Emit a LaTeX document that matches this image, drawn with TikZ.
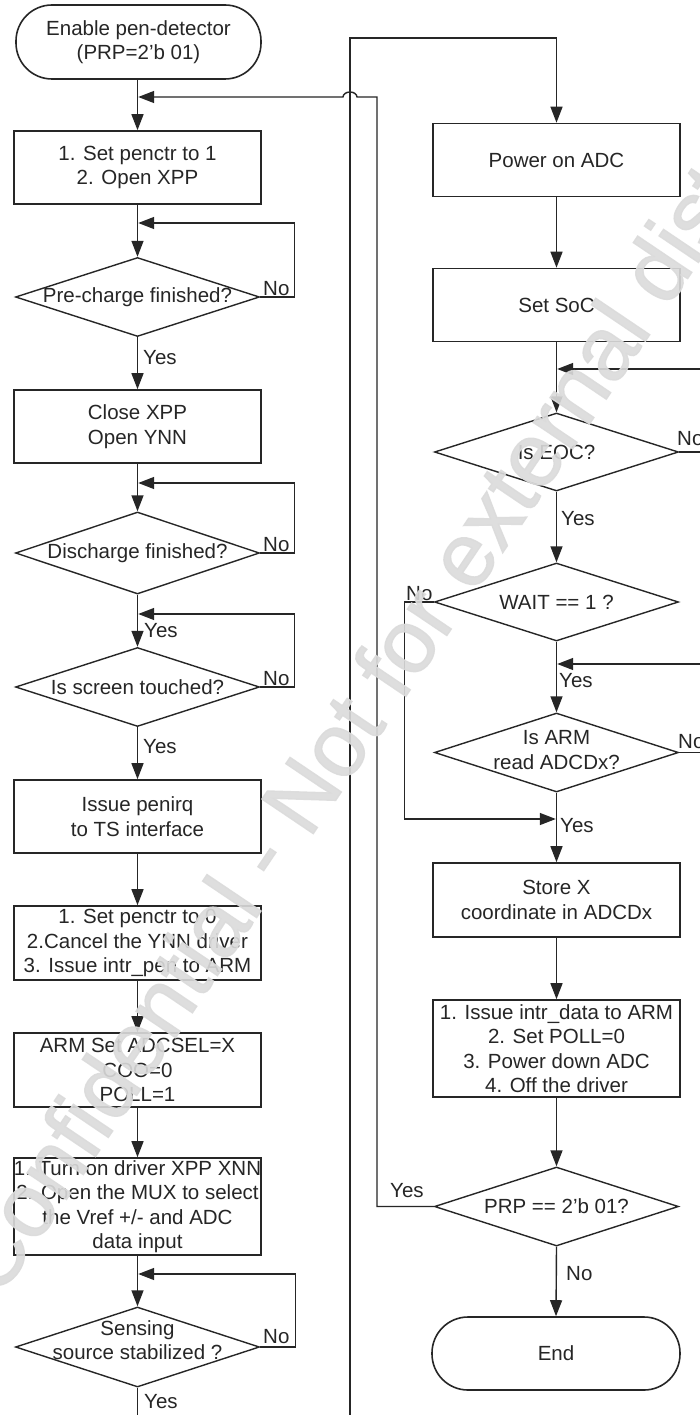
\documentclass[tikz,border=0pt]{standalone}
\usepackage{fontspec}
\setmainfont{Liberation Sans}
\newfontfamily\markfont[FakeBold=1.5]{Liberation Sans}
\usetikzlibrary{shapes.geometric,arrows.meta}
\definecolor{ink}{gray}{0.15}
\definecolor{wm}{gray}{0.86}

\begin{document}
\begin{tikzpicture}[x=1pt,y=-1pt,
  every node/.style={font=\fontsize{20.5}{24.5}\selectfont, text=ink},
  conn/.style={draw=ink, line width=1.4pt},
  arr/.style={conn, -{Triangle[length=16pt,width=12pt]}},
  procbox/.style={draw=ink, line width=1.6pt, rectangle, minimum width=247pt,
    minimum height=73pt, inner sep=0pt, align=center},
  termbox/.style={procbox, rounded corners=36pt},
  decbox/.style={draw=ink, line width=1.4pt, diamond, minimum width=244pt,
    minimum height=79pt, inner sep=0pt},
  dectext/.style={align=center, inner sep=0pt},
  lbl/.style={inner sep=0pt, anchor=base west},
]
\useasboundingbox (0,0) rectangle (700,1415);
\clip (0,0) rectangle (700,1415);
\fill[white] (0,0) rectangle (700,1415);

% ---------------- left column: pen detection ----------------
\node[termbox, minimum width=245pt, minimum height=74pt] (start) at (138.5,42)
  {Enable pen-detector\\(PRP=2'b 01)};
\node[procbox] (b1) at (137.5,167.5) {1. Set penctr to 1\\2. Open XPP};
\node[decbox] (d1) at (137.5,297) {};
\node[dectext] (d1t) at (d1.center) {Pre-charge finished?};
\node[procbox] (b2) at (137.5,426.5) {Close XPP\\Open YNN};
\node[decbox, minimum height=82pt] (d2) at (137.5,553) {};
\node[dectext] (d2t) at (d2.center) {Discharge finished?};
\node[decbox] (d3) at (137.5,687) {};
\node[dectext] (d3t) at (d3.center) {Is screen touched?};
\node[procbox] (b3) at (137.5,816.5) {Issue penirq\\to TS interface};
\node[procbox, minimum height=74pt] (b4) at (137.5,943)
  {1. Set penctr to 0\\2.Cancel the YNN driver\\3. Issue intr\_pen to ARM};
\node[procbox, minimum height=74pt] (b5) at (137.5,1070)
  {ARM Set ADCSEL=X\\COO=0\\POLL=1};
\node[procbox, minimum height=97pt] (b6) at (137.5,1206.5)
  {1. Turn on driver XPP XNN\\2. Open the MUX to select\\the Vref +/- and ADC\\data input};
\node[decbox, minimum height=80pt] (d4) at (137.5,1347) {};
\node[dectext] (d4t) at (137.5,1340) {Sensing\\source stabilized ?};

% merge points on the left trunk
\coordinate (m0) at (137.5,97);
\coordinate (m1) at (137.5,223);
\coordinate (m2) at (137.5,483);
\coordinate (m3) at (137.5,614);
\coordinate (m4) at (137.5,1274);
\coordinate (lb) at (137.5,1416);

\draw[arr] (start.south -| b1.north) -- (b1.north);
\draw[arr] (b1.south) -- (d1.north);
\draw[arr, shorten >=0.7pt] (d1.east) -- ++(34,0) |- (m1);
\draw[arr] (d1.south) -- (b2.north);
\draw[arr] (b2.south) -- (d2.north);
\draw[arr, shorten >=0.7pt] (d2.east) -- ++(34,0) |- (m2);
\draw[arr] (d2.south) -- (d3.north);
\draw[arr, shorten >=0.7pt] (d3.east) -- ++(34,0) |- (m3);
\draw[arr] (d3.south) -- (b3.north);
\draw[arr] (b3.south) -- (b4.north);
\draw[arr] (b4.south) -- (b5.north);
\draw[arr] (b5.south) -- (b6.north);
\draw[arr] (b6.south) -- (d4.north);
\draw[arr, shorten >=0.7pt] (d4.east) -- ++(35,0) |- (m4);
\draw[conn] (d4.south) -- (lb);

\node[lbl] (n1) at (263,295) {No};
\node[lbl] (y1) at (143,364) {Yes};
\node[lbl] (n2) at (263,551) {No};
\node[lbl] (y2) at (144,637) {Yes};
\node[lbl] (n3) at (263,685) {No};
\node[lbl] (y3) at (143,753) {Yes};
\node[lbl] (n4) at (263,1343) {No};
\node[lbl] (y4) at (144,1408) {Yes};

% ---------------- right column: X conversion ----------------
\node[procbox] (p1) at (556.5,160) {Power on ADC};
\node[procbox] (p2) at (556.5,305) {Set SoC};
\node[decbox, minimum height=78pt] (e1) at (556.5,452) {};
\node[dectext] (e1t) at (e1.center) {Is EOC?};
\node[decbox, minimum height=78pt] (w1) at (556.5,602) {};
\node[dectext] (w1t) at (w1.center) {WAIT == 1 ?};
\node[decbox] (a1) at (556.5,752.5) {};
\node[dectext] (a1t) at (556.5,750) {Is ARM\\read ADCDx?};
\node[procbox, minimum height=74pt] (s1) at (556.5,900) {Store X\\coordinate in ADCDx};
\node[procbox, minimum height=97pt] (i1) at (556.5,1048.5)
  {1. Issue intr\_data to ARM\\2. Set POLL=0\\3. Power down ADC\\4. Off the driver};
\node[decbox] (r1) at (556.5,1206.5) {};
\node[dectext] (r1t) at (r1.center) {PRP == 2'b 01?};
\node[termbox, minimum width=248pt, minimum height=73pt] (end) at (556,1353.5) {End};

\coordinate (lt) at (350,1416);
\coordinate (tp) at (556.5,38);
\coordinate (m5) at (556.5,369);
\coordinate (m6) at (556.5,664);
\coordinate (m7) at (556.5,819);

\draw[arr] (lt) |- (tp) -- (p1.north);
\draw[arr] (p1.south) -- (p2.north);
\draw[arr] (p2.south) -- (e1.north);
\draw[arr, shorten >=0.7pt] (e1.east) -- ++(30,0) |- (m5);
\draw[arr] (e1.south) -- (w1.north);
\draw[arr, shorten >=0.7pt] (w1.west) -- ++(-29.5,0) |- (m7);
\draw[arr] (w1.south) -- (a1.north);
\draw[arr, shorten >=0.7pt] (a1.east) -- ++(30,0) |- (m6);
\draw[arr] (a1.south) -- (s1.north);
\draw[arr] (s1.south) -- (i1.north);
\draw[arr] (i1.south) -- (r1.north);
\draw[arr] (r1.south) -- (end.north);
% loop back to the pen detector, hopping over the trunk line
\draw[arr, shorten >=0.7pt] (r1.west) -- (377,1206.5) -- (377,97) -- (357,97)
  arc[start angle=0, end angle=180, x radius=7pt, y radius=5pt] -- (m0);

\node[lbl] (n5) at (677,445) {No};
\node[lbl] (y5) at (561,525) {Yes};
\node[lbl] (n6) at (406,600) {No};
\node[lbl] (y6) at (559,687) {Yes};
\node[lbl] (n7) at (678,748) {No};
\node[lbl] (y7) at (560,832) {Yes};
\node[lbl] (y8) at (390,1197) {Yes};
\node[lbl] (n8) at (566,1280) {No};

% watermark laid over the chart
\node[rotate=56, text=wm, opacity=0.9, inner sep=0pt,
  font=\markfont\fontsize{90}{90}\selectfont] (mark) at (428,606)
  {Confidential - Not for external distribution};
\end{tikzpicture}
\end{document}
